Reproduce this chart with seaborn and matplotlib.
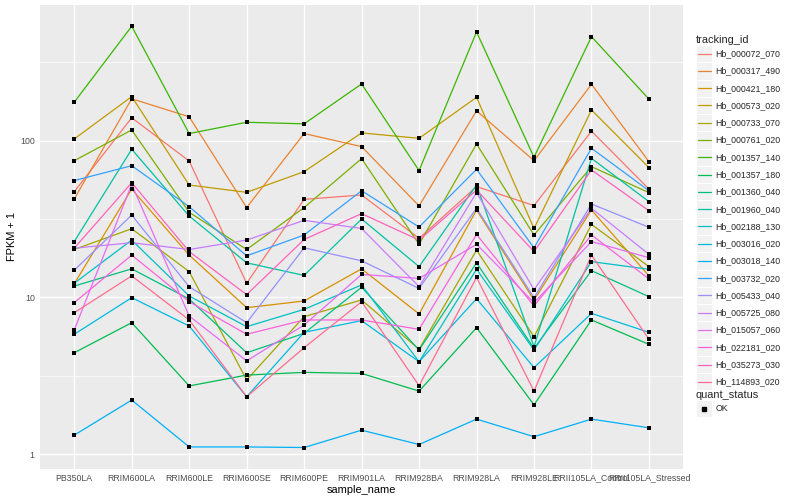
import numpy as np
import pandas as pd
import matplotlib
matplotlib.use("Agg")
import matplotlib.pyplot as plt
import seaborn as sns
from matplotlib.lines import Line2D
from matplotlib.patches import Rectangle
from matplotlib.legend_handler import HandlerBase
from matplotlib.ticker import FixedLocator, NullFormatter

# Sample order on the x axis
samples = ["PB350LA", "RRIM600LA", "RRIM600LE", "RRIM600SE", "RRIM600PE", "RRIM901LA",
           "RRIM928BA", "RRIM928LA", "RRIM928LE", "RRII105LA_Control", "RRII105LA_Stressed"]

# FPKM per gene
fpkm = {
    "Hb_000072_070": [46.2, 139, 73.1, 11.3, 41.2, 44.0, 22.8, 49.9, 37.5, 114, 48.1],
    "Hb_000317_490": [41.4, 184, 141, 36.4, 110, 90.6, 37.3, 154, 73.5, 228, 72.4],
    "Hb_000421_180": [11.2, 48.1, 17.6, 7.59, 8.48, 14.2, 6.83, 35.1, 8.62, 35.1, 12.7],
    "Hb_000573_020": [101.5, 190, 51.1, 45.8, 62.4, 111, 102.5, 188, 26.5, 156, 66.3],
    "Hb_000733_070": [19.2, 26.4, 13.6, 1.97, 6.53, 8.62, 3.66, 19.0, 4.61, 28.2, 14.7],
    "Hb_000761_020": [73.5, 116, 33.9, 19.2, 36.4, 75.8, 20.8, 94.2, 24.0, 67.2, 45.6],
    "Hb_001357_140": [175, 536, 110, 130, 127, 229, 63.4, 493, 77.3, 460, 183],
    "Hb_001357_180": [3.43, 5.89, 1.72, 2.19, 2.32, 2.27, 1.52, 5.40, 1.06, 6.17, 4.01],
    "Hb_001360_040": [10.8, 14.2, 8.75, 3.43, 4.89, 10.6, 3.61, 15.6, 3.72, 13.8, 9.1],
    "Hb_001960_040": [21.7, 87.1, 32.0, 15.6, 12.8, 30.6, 14.7, 51.1, 3.84, 76.1, 39.8],
    "Hb_002188_130": [11.3, 22.2, 9.2, 5.5, 7.38, 11.0, 2.88, 14.1, 3.61, 15.9, 14.1],
    "Hb_003016_020": [4.81, 8.95, 5.56, 1.32, 4.98, 6.1, 2.88, 8.80, 2.56, 6.90, 4.98],
    "Hb_003018_140": [0.32, 1.21, 0.11, 0.11, 0.10, 0.42, 0.15, 0.67, 0.29, 0.67, 0.47],
    "Hb_003732_020": [54.6, 68.2, 36.9, 17.4, 24.0, 46.9, 27.1, 64.6, 19.7, 88.4, 46.9],
    "Hb_005433_040": [13.9, 32.5, 10.7, 5.89, 19.7, 16.1, 10.4, 36.0, 8.95, 38.4, 27.0],
    "Hb_005725_080": [19.6, 21.3, 19.2, 22.2, 30.0, 26.5, 10.7, 45.6, 10.2, 36.0, 17.8],
    "Hb_015057_060": [5.19, 51.6, 6.6, 2.93, 5.66, 13.0, 12.2, 20.8, 8.25, 21.7, 16.9],
    "Hb_022181_020": [8.25, 17.6, 8.38, 4.81, 6.17, 6.17, 5.25, 24.2, 7.81, 24.0, 12.1],
    "Hb_035273_030": [19.6, 52.9, 18.6, 9.4, 22.4, 33.2, 22.2, 47.4, 18.6, 64.0, 34.7],
    "Hb_114893_020": [6.98, 12.7, 6.17, 1.32, 3.77, 8.38, 1.73, 12.4, 1.52, 17.6, 4.4],
}
gene_ids = list(fpkm.keys())

# ggplot default hue palette for 20 levels
hue_colors = ["#F8766D", "#EA8331", "#D89000", "#C09B00", "#A3A500", "#7CAE00", "#39B600",
              "#00BB4E", "#00BF7D", "#00C1A3", "#00BFC4", "#00BAE0", "#00B0F6", "#35A2FF",
              "#9590FF", "#C77CFF", "#E76BF3", "#FA62DB", "#FF62BC", "#FF6C91"]
palette = dict(zip(gene_ids, hue_colors))

wide = pd.DataFrame(fpkm)
wide["sample_name"] = samples
data = wide.melt(id_vars="sample_name", var_name="tracking_id", value_name="fpkm")
data["fpkm1"] = data["fpkm"] + 1
data["quant_status"] = "OK"

sns.set_style("darkgrid", {"axes.facecolor": "#EBEBEB", "grid.color": "white",
                           "axes.edgecolor": "none"})
plt.rcParams["font.family"] = ["Liberation Sans", "DejaVu Sans"]

fig = plt.figure(figsize=(8, 5), dpi=100)
ax = fig.add_axes([0.0497, 0.0628, 0.8046, 0.9268])

sns.lineplot(data=data, x="sample_name", y="fpkm1", hue="tracking_id", palette=palette,
             estimator=None, sort=False, linewidth=0.9, legend=False, ax=ax)
sns.scatterplot(data=data, x="sample_name", y="fpkm1", color="black", marker="s", s=6,
                linewidth=0, legend=False, ax=ax, zorder=3)

# log y with ggplot-like 5% expansion
ax.set_yscale("log")
lmin, lmax = np.log10(data["fpkm1"].min()), np.log10(data["fpkm1"].max())
pad = 0.05 * (lmax - lmin)
ax.set_ylim(10 ** (lmin - pad), 10 ** (lmax + pad))
ax.set_xlim(-0.6, len(samples) - 0.4)

ax.set_yticks([1, 10, 100])
ax.set_yticklabels(["1", "10", "100"])
ax.yaxis.set_minor_locator(FixedLocator([10 ** 0.5, 10 ** 1.5, 10 ** 2.5]))
ax.yaxis.set_minor_formatter(NullFormatter())
ax.grid(which="major", color="white", linewidth=1.0)
ax.grid(which="minor", axis="y", color="white", linewidth=0.5)
ax.tick_params(axis="both", which="major", length=2, width=0.7, color="#333333",
               labelsize=6.3, labelcolor="#4D4D4D", pad=1.6)
ax.tick_params(which="minor", length=0)
for s in ax.spines.values():
    s.set_visible(False)

ax.set_xlabel("sample_name", fontsize=7.9, color="black", labelpad=2)
ax.set_ylabel("FPKM + 1", fontsize=7.9, color="black", labelpad=2)


class KeyBox(HandlerBase):
    # grey key box like ggplot legends
    def create_artists(self, legend, orig_handle, xdescent, ydescent, width, height, fontsize, trans):
        x0, y0 = -xdescent, -ydescent
        box = Rectangle((x0, y0), width, height, facecolor="#F2F2F2", edgecolor="white",
                        linewidth=0.8, transform=trans)
        if orig_handle.get_marker() not in (None, "None", ""):
            mk = Line2D([x0 + width / 2], [y0 + height / 2], marker=orig_handle.get_marker(),
                        markersize=orig_handle.get_markersize(), color=orig_handle.get_color(),
                        linestyle="none", transform=trans)
        else:
            mk = Line2D([x0 + 0.1 * width, x0 + 0.9 * width], [y0 + height / 2] * 2,
                        color=orig_handle.get_color(), linewidth=0.9, transform=trans)
        return [box, mk]


common = dict(loc="upper left", frameon=False, fontsize=6.3, title_fontsize=7.9,
              handlelength=1.85, handleheight=2.66, labelspacing=0, handletextpad=0.4,
              borderpad=0, borderaxespad=0, alignment="left",
              handler_map={Line2D: KeyBox()})

gene_handles = [Line2D([], [], color=c, linewidth=0.9) for c in hue_colors]
fig.legend(gene_handles, gene_ids, title="tracking_id",
           bbox_to_anchor=(696 / 800, 1 - 35 / 500), **common)

ok_handle = [Line2D([], [], color="black", marker="s", linestyle="none", markersize=2.6)]
fig.legend(ok_handle, ["OK"], title="quant_status",
           bbox_to_anchor=(696 / 800, 1 - 390 / 500), **common)

fig.savefig("out.png", dpi=100)
